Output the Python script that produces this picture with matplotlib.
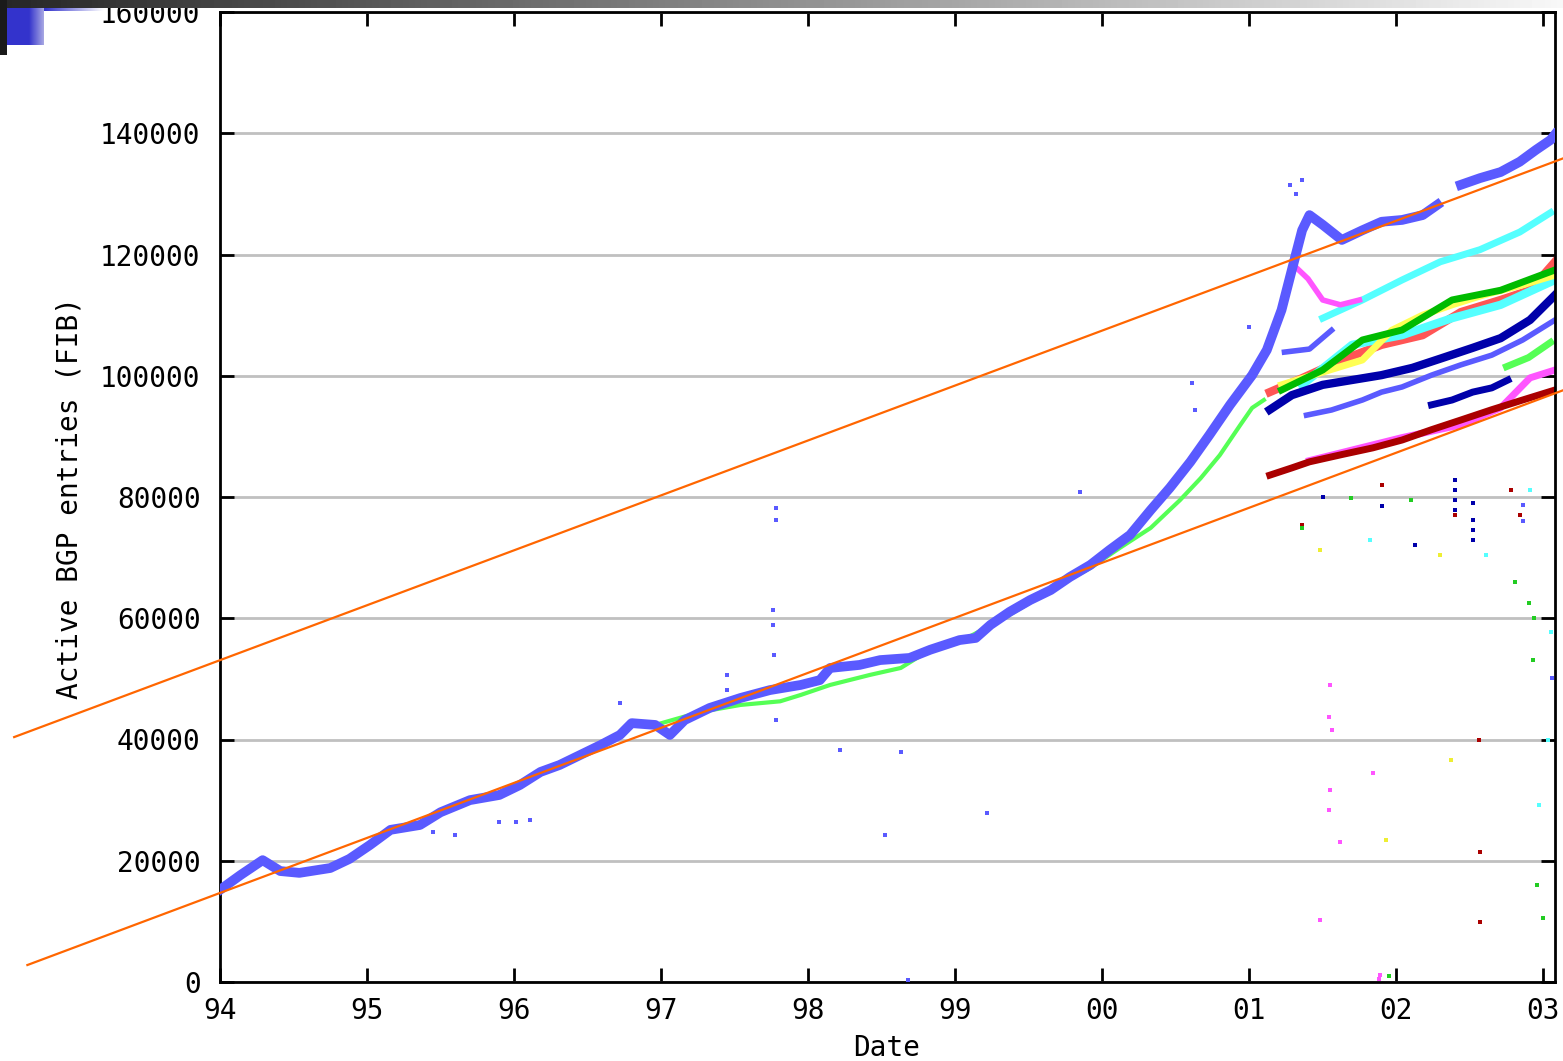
import numpy as np
import matplotlib
matplotlib.use("Agg")
import matplotlib.pyplot as plt

plt.rcParams['font.family'] = ['DejaVu Sans Mono']

# year ticks (94 = 1994)
year_ticks = [94, 95, 96, 97, 98, 99, 100, 101, 102, 103]
year_labels = ['94', '95', '96', '97', '98', '99', '00', '01', '02', '03']
y_ticks = [0, 20000, 40000, 60000, 80000, 100000, 120000, 140000, 160000]

# main blue series (two pieces, gap in 2002)
blue_a_x = [94.00, 94.14, 94.29, 94.41, 94.54, 94.75, 94.88, 95.02, 95.16, 95.36, 95.50,
            95.70, 95.90, 96.04, 96.18, 96.31, 96.45, 96.59, 96.72, 96.80, 96.96, 97.06,
            97.16, 97.33, 97.54, 97.74, 97.95, 98.08, 98.15, 98.35, 98.49, 98.69, 98.83,
            99.03, 99.14, 99.24, 99.37, 99.51, 99.65, 99.78, 99.92, 100.05, 100.19, 100.33,
            100.46, 100.60, 100.73, 100.87, 101.02, 101.12, 101.22, 101.29, 101.36, 101.41,
            101.50, 101.63, 101.77, 101.90, 102.04, 102.18, 102.28]
blue_a_y = [15200, 17650, 20100, 18300, 18000, 18800, 20300, 22600, 25100, 25900, 28000,
            30000, 30850, 32500, 34650, 35800, 37450, 39100, 40750, 42700, 42400, 40750,
            43200, 45200, 46850, 48150, 49000, 49800, 51800, 52300, 53100, 53450, 54800,
            56400, 56750, 58900, 61050, 63000, 64650, 66800, 68800, 71250, 73750, 77850,
            81500, 85800, 90250, 95200, 100100, 104250, 110850, 117450, 124000, 126500,
            124900, 122400, 124000, 125400, 125700, 126500, 128200]
blue_b_x = [102.44, 102.57, 102.71, 102.84, 102.95, 103.05, 103.08]
blue_b_y = [131500, 132600, 133600, 135300, 137250, 138900, 139800]

# light green series
green_a_x = [96.96, 97.27, 97.54, 97.81, 97.95, 98.15, 98.42, 98.63, 98.83, 99.03, 99.31,
             99.71, 99.92, 100.12, 100.33, 100.53, 100.67, 100.80, 100.94, 101.02, 101.10]
green_a_y = [42400, 44550, 45700, 46300, 47350, 49000, 50650, 51800, 54800, 56100, 59700,
             65500, 68300, 71600, 74900, 79500, 83100, 86900, 91900, 94700, 96000]
green_b_x = [102.75, 102.90, 103.05]
green_b_y = [101500, 103000, 105500]

# 2001+ peer tables
cyan_x = [101.50, 101.77, 102.04, 102.30, 102.57, 102.84, 103.05]
cyan_y = [109500, 112500, 115800, 118800, 120800, 123700, 126900]
magenta_top_x = [101.30, 101.40, 101.50, 101.62, 101.75]
magenta_top_y = [118300, 116000, 112500, 111700, 112500]

red_x = [101.14, 101.36, 101.63, 101.90, 102.18, 102.44, 102.71, 102.91, 103.08]
red_y = [97300, 99600, 102600, 105100, 106700, 110500, 112500, 114100, 118800]
yellow_x = [101.22, 101.50, 101.77, 101.97, 102.18, 102.38, 102.59, 102.86, 103.08]
yellow_y = [98500, 100600, 102600, 107500, 110000, 111700, 113300, 115000, 116600]
dgreen_x = [101.22, 101.50, 101.77, 102.04, 102.38, 102.71, 103.08]
dgreen_y = [97650, 100950, 105900, 107550, 112500, 114100, 117450]
cyan2_x = [101.36, 101.70, 102.04, 102.38, 102.71, 103.08]
cyan2_y = [98500, 105100, 106700, 109500, 111700, 115800]
navy_x = [101.14, 101.29, 101.50, 101.70, 101.90, 102.11, 102.31, 102.52, 102.71, 102.91, 103.08]
navy_y = [94400, 96800, 98500, 99300, 100100, 101300, 102900, 104600, 106200, 109200, 113300]

blue2_x = [101.24, 101.41, 101.56]
blue2_y = [103900, 104400, 107500]
blue3_x = [101.39, 101.56, 101.77, 101.90, 102.04, 102.24, 102.44, 102.65, 102.86, 103.08]
blue3_y = [93500, 94350, 96000, 97300, 98150, 100100, 101800, 103400, 105900, 109200]

dred_x = [101.14, 101.29, 101.41, 101.63, 101.84, 102.04, 102.24, 102.44, 102.65, 102.86, 103.08]
dred_y = [83600, 84800, 85800, 87000, 88100, 89400, 91100, 92700, 94400, 96000, 97650]
magenta_x = [101.41, 102.04, 102.44, 102.71, 102.91, 103.08]
magenta_y = [86000, 89800, 91900, 94700, 99650, 100950]
navy2_x = [102.24, 102.38, 102.52, 102.65, 102.76]
navy2_y = [95200, 96000, 97300, 98000, 99300]

# stray samples
blue_pts_x = [97.78, 97.78, 97.76, 97.76, 97.77, 97.78, 99.85, 98.22, 98.63, 98.52, 99.22,
              100.61, 100.63, 98.68, 95.90, 96.01, 96.11, 97.45, 97.45, 96.72, 101.28, 101.36,
              101.32, 95.45, 95.60, 101.00, 102.86, 102.86, 103.06]
blue_pts_y = [78190, 76210, 61360, 58890, 53940, 43220, 80830, 38270, 37940, 24250, 27880,
              98810, 94350, 330, 26390, 26390, 26720, 50640, 48170, 46020, 131470, 132290,
              130000, 24800, 24300, 108000, 78600, 76000, 50150]
magenta_pts_x = [101.55, 101.54, 101.56, 101.55, 101.54, 101.62, 101.84, 101.48, 101.89, 101.88]
magenta_pts_y = [48990, 43710, 41570, 31670, 28370, 23090, 34470, 10230, 1150, 500]
dred_pts_x = [102.56, 102.57, 102.57, 102.40, 102.78, 102.84, 101.36, 101.90]
dred_pts_y = [39920, 21440, 9900, 77030, 81150, 77030, 75380, 82000]
green_pts_x = [102.90, 102.94, 102.93, 102.96, 103.00, 102.81, 101.36, 101.69, 102.10, 101.95]
green_pts_y = [62520, 60040, 53110, 16000, 10560, 65980, 74900, 79830, 79500, 1000]
cyan_pts_x = [103.03, 102.97, 103.05, 101.82, 102.61, 102.91]
cyan_pts_y = [39920, 29200, 57730, 72900, 70430, 81150]
yellow_pts_x = [102.37, 101.93, 101.48, 102.30]
yellow_pts_y = [36620, 23420, 71260, 70430]
navy_pts_x = [102.13, 102.52, 102.40, 102.40, 102.40, 102.40, 102.52, 102.52, 102.52, 101.50, 101.90]
navy_pts_y = [72080, 72900, 82800, 81150, 79500, 77860, 76210, 74560, 79000, 80000, 78500]

# trend lines
trend_up_x = [92.60, 103.14]
trend_up_y = [40400, 135900]
trend_lo_x = [92.69, 103.14]
trend_lo_y = [2800, 97650]

W, H = 1563, 1061
fig = plt.figure(figsize=(W / 100, H / 100), dpi=100)
ax = fig.add_axes([220 / W, 1 - 982 / H, 1335 / W, 970 / H])

ax.set_xlim(94, 103.08)
ax.set_ylim(0, 160000)
ax.set_xticks(year_ticks)
ax.set_xticklabels(year_labels)
ax.set_yticks(y_ticks)
ax.set_yticklabels([str(v) for v in y_ticks])
ax.yaxis.grid(True, color='#c0c0c0', lw=2, zorder=0)
ax.set_axisbelow(True)
ax.tick_params(direction='in', length=10, width=2, top=True, right=True,
               labelsize=20, color='black')
ax.tick_params(axis='x', pad=11)
ax.tick_params(axis='y', pad=14)
for sp in ax.spines.values():
    sp.set_linewidth(2)

B = '#5a5aff'
ax.plot(blue_a_x, blue_a_y, color=B, lw=7, zorder=3)
ax.plot(blue_b_x, blue_b_y, color=B, lw=7, zorder=3)
ax.plot(green_a_x, green_a_y, color='#55ff55', lw=3, zorder=2)
ax.plot(green_b_x, green_b_y, color='#55ff55', lw=5, zorder=2)
ax.plot(cyan_x, cyan_y, color='#55ffff', lw=5, zorder=2)
ax.plot(magenta_top_x, magenta_top_y, color='#ff55ff', lw=4, zorder=2)
ax.plot(blue2_x, blue2_y, color=B, lw=4, zorder=2)
ax.plot(blue3_x, blue3_y, color=B, lw=4, zorder=2)
ax.plot(red_x, red_y, color='#ff5555', lw=6, zorder=2)
ax.plot(cyan2_x, cyan2_y, color='#55ffff', lw=6, zorder=2)
ax.plot(yellow_x, yellow_y, color='#ffff55', lw=5, zorder=2)
ax.plot(dgreen_x, dgreen_y, color='#00bb00', lw=5, zorder=2)
ax.plot(navy_x, navy_y, color='#0000aa', lw=6, zorder=2)
ax.plot(magenta_x, magenta_y, color='#ff55ff', lw=5, zorder=2)
ax.plot(dred_x, dred_y, color='#aa0000', lw=5, zorder=2)
ax.plot(navy2_x, navy2_y, color='#0000aa', lw=5, zorder=2)

for px, py, c in [(blue_pts_x, blue_pts_y, B), (magenta_pts_x, magenta_pts_y, '#ff55ff'),
                  (dred_pts_x, dred_pts_y, '#aa0000'), (green_pts_x, green_pts_y, '#22cc22'),
                  (cyan_pts_x, cyan_pts_y, '#55ffff'), (yellow_pts_x, yellow_pts_y, '#eeee33'),
                  (navy_pts_x, navy_pts_y, '#0000aa')]:
    ax.scatter(px, py, s=12, marker='s', color=c, linewidths=0, zorder=3)

ax.plot(trend_up_x, trend_up_y, color='#ff6600', lw=1.6, clip_on=False, zorder=4)
ax.plot(trend_lo_x, trend_lo_y, color='#ff6600', lw=1.6, clip_on=False, zorder=4)

fig.text(70 / W, 1 - 498 / H, 'Active BGP entries (FIB)', rotation=90,
         ha='center', va='center', fontsize=20)
fig.text(887 / W, 1 - 1048 / H, 'Date', ha='center', va='center', fontsize=20)

# slide decoration, top left
bar = fig.add_axes([0, 1 - 8 / H, 1, 8 / H])
bar.imshow(np.linspace(0.15, 0.97, 256)[None, :], cmap='gray', aspect='auto',
           vmin=0, vmax=1)
bar.axis('off')
strip = fig.add_axes([44 / W, 1 - 11 / H, 60 / W, 3 / H])
grad = np.linspace(0, 1, 64)
strip.imshow(np.dstack([0.2 + 0.8 * grad, 0.2 + 0.8 * grad, 0.8 + 0.2 * grad]),
             aspect='auto')
strip.axis('off')
sq = fig.add_axes([7 / W, 1 - 45 / H, 37 / W, 37 / H])
g2 = np.clip((np.linspace(0, 1, 37) - 0.6) / 0.4, 0, 1) * 0.45
sq.imshow(np.dstack([np.tile(0.2 + g2, (37, 1)), np.tile(0.2 + g2, (37, 1)),
                     np.tile(0.8 + g2 * 0.2, (37, 1))]), aspect='auto')
sq.axis('off')
blk = fig.add_axes([0, 1 - 55 / H, 7 / W, 55 / H])
blk.set_facecolor('#1a1a1a')
blk.set_xticks([])
blk.set_yticks([])
for sp in blk.spines.values():
    sp.set_visible(False)

fig.savefig('out.png', dpi=100)
